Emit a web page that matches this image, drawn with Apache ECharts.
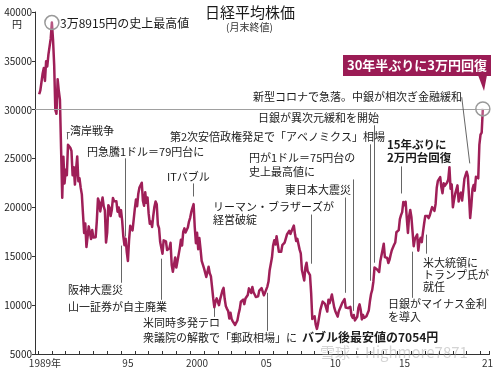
<!DOCTYPE html>
<html><head><meta charset="utf-8">
<script src="https://cdn.jsdelivr.net/npm/echarts@6/dist/echarts.min.js"></script>
<style>html,body{margin:0;padding:0;background:#fff}#c{width:496px;height:371px}</style>
</head><body><div id="c"></div>
<script>
// Month-end closes of the Nikkei 225 (yen), one array per year
const y1989 = [31581,31985,32838,33713,34266,32948,34953,34431,35636,35549,37268,38915];
const y1990 = [37188,34591,29980,29584,33130,31940,31035,25978,20983,25194,22454,23848];
const y1991 = [23293,26409,26292,26111,25790,23290,24120,22335,23916,25222,22687,22983];
const y1992 = [22023,21338,19345,17390,18348,15951,15910,18061,17399,16767,17684,16925];
const y1993 = [17023,16953,18591,20919,20552,19590,20380,21027,20106,19704,16407,17417];
const y1994 = [20229,19997,19112,19725,20973,20644,20448,20629,19564,19990,19076,19723];
const y1995 = [18650,17053,16140,16807,15437,14517,16678,18117,17913,17655,18744,19868];
const y1996 = [20813,20125,21407,22041,21956,22531,20693,20167,21556,20466,21020,19361];
const y1997 = [18330,18557,18003,19151,20069,20605,20331,18229,17888,16459,16636,15259];
const y1998 = [16628,16831,16527,15641,15671,15830,16379,14108,13406,13565,14884,13842];
const y1999 = [14499,14368,15837,16702,16112,17530,17862,17437,17605,17942,18558,18934];
const y2000 = [19540,19960,20337,17974,16332,17411,15727,16861,15747,14540,14649,13786];
const y2001 = [13844,12884,12999,13934,13262,12969,11861,10713,9775,10367,10697,10543];
const y2002 = [9998,10587,11025,11493,11764,10622,9877,9619,9383,8640,9216,8579];
const y2003 = [8340,8363,7973,7831,8425,9083,9563,10344,10219,10560,10101,10677];
const y2004 = [10784,11042,11715,11762,11236,11859,11326,11082,10824,10771,10899,11489];
const y2005 = [11388,11741,11669,11009,11277,11584,11900,12414,13574,13607,14872,16111];
const y2006 = [16650,16205,17060,16906,15467,15505,15457,16141,16128,16399,16274,17226];
const y2007 = [17383,17604,17288,17400,17876,18138,17248,16569,16786,16738,15681,15308];
const y2008 = [13592,13603,12526,13850,14339,13481,13377,13073,11260,8577,8512,8860];
const y2009 = [7994,7568,8110,8828,9523,9958,10357,10493,10133,10035,9346,10546];
const y2010 = [10198,10126,11090,11057,9769,9383,9537,8824,9369,9202,9937,10229];
const y2011 = [10238,10624,9755,9850,9694,9816,9833,8955,8700,8988,8434,8455];
const y2012 = [8803,9723,10084,9521,8543,9007,8695,8840,8870,8928,9446,10395];
const y2013 = [11139,11559,12398,13861,13775,13677,13668,13389,14456,14328,15662,16291];
const y2014 = [14915,14841,14828,14304,14632,15162,15621,15425,16174,16414,17460,17451];
const y2015 = [17674,18798,19207,19520,20563,20236,20585,18890,17388,19083,19747,19034];
const y2016 = [17518,16027,16759,16666,17235,15576,16569,16887,16450,17425,18308,19114];
const y2017 = [19041,19119,18909,19197,19651,20033,19925,19646,20356,22012,22725,22765];
const y2018 = [23098,22068,21454,22468,22202,22305,22554,22865,24120,21920,22351,20015];
const y2019 = [20773,21385,21206,22259,20601,21276,21522,20704,21756,22927,23294,23657];
const y2020 = [23205,21143,18917,20194,21878,22288,21710,23140,23185,22977,26434,27444];
const y2021 = [27663,30084];

const firstYear = 1989;
const years = [y1989,y1990,y1991,y1992,y1993,y1994,y1995,y1996,y1997,y1998,y1999,y2000,
  y2001,y2002,y2003,y2004,y2005,y2006,y2007,y2008,y2009,y2010,y2011,y2012,y2013,y2014,
  y2015,y2016,y2017,y2018,y2019,y2020,y2021];

// x-axis tick labels (placed at mid-year)
const xLabelYears = [1989,1995,2000,2005,2010,2015,2021];
const xLabelTexts = ['1989年','95','2000','05','10','15','21'];

const peakX = 1990.0, peakV = 38915; // Dec 1989 close

const series = [];
years.forEach((arr, yi) => arr.forEach((v, m) => series.push([firstYear + yi + (m + 1) / 12, v])));
const last = series[series.length - 1];

// annotation leader lines, in data units [x1,y1,x2,y2]
const leaders = [
  [1991.08,27690,1991.08,26971],[1991.08,27690,1991.3,27690],
  [1995.32,25020,1995.32,17012],
  [1995.04,16088,1995.04,12290],
  [1997.91,14754,1997.91,10544],
  [2000.22,22454,2000.22,21119],
  [2001.73,9723,2001.73,8799],
  [2005.61,11263,2005.61,7361],
  [2008.78,19271,2008.78,14240],
  [2011.22,21016,2011.22,11263],
  [2011.80,22865,2011.80,9415],
  [2012.99,26458,2012.99,12495],
  [2013.31,28408,2013.31,14343],
  [2015.25,24199,2015.25,21427],
  [2016.04,15472,2016.04,10750],
  [2017.05,17218,2017.05,15267],
  [2019.64,31284,2020.22,24507]
];

const FONT = '"Noto Sans CJK JP","Noto Sans",sans-serif';
const LINE = '#9f1f58';
const labelMap = {};
xLabelYears.forEach((y, i) => { labelMap[(y + 0.5).toFixed(1)] = xLabelTexts[i]; });

function txt(text, x, y, size, opts) {
  opts = opts || {};
  return { type: 'text', z: 100, style: {
    text: text, x: x, y: y, fill: opts.fill || '#1a1a1a',
    font: (opts.bold ? 'bold ' : '') + size + 'px ' + FONT,
    align: opts.align || 'left', verticalAlign: 'middle', lineHeight: opts.lh || size + 2
  }};
}

const chart = echarts.init(document.getElementById('c'), null, { renderer: 'canvas' });
chart.setOption({
  animation: false,
  backgroundColor: '#fff',
  textStyle: { fontFamily: FONT },
  grid: { left: 35, right: 4, top: 12, bottom: 17, containLabel: false },
  xAxis: [
    { type: 'value', min: 1988.78, max: 2021.65, splitNumber: 33, position: 'bottom',
      axisLine: { show: true, onZero: false, lineStyle: { color: '#333', width: 1 } },
      axisTick: { show: true, inside: true, length: 3, lineStyle: { color: '#333' } },
      axisLabel: { show: false }, splitLine: { show: false } },
    { type: 'value', min: 1988.78, max: 2021.65, splitNumber: 66, position: 'bottom',
      axisLine: { show: false, onZero: false }, axisTick: { show: false }, splitLine: { show: false },
      axisLabel: { show: true, margin: 4, fontSize: 10, color: '#333', fontFamily: FONT,
        formatter: v => labelMap[(Math.round(v * 2) / 2).toFixed(1)] || '' } }
  ],
  yAxis: { type: 'value', min: 5000, max: 40000, interval: 5000,
    axisLine: { show: true, onZero: false, lineStyle: { color: '#333', width: 1 } },
    axisTick: { show: true, length: 3, lineStyle: { color: '#333' } },
    axisLabel: { fontSize: 10, color: '#222', margin: 3, fontFamily: FONT, formatter: v => String(v) },
    splitLine: { show: false } },
  series: [{
    type: 'line', xAxisIndex: 0, data: series, showSymbol: false, symbol: 'none',
    lineStyle: { color: LINE, width: 2.5, join: 'round' },
    markLine: { silent: true, symbol: ['none', 'none'], label: { show: false }, animation: false,
      data: [{ yAxis: 30000, lineStyle: { color: '#a0a0a0', width: 1, type: 'solid' } }].concat(
        leaders.map(l => [{ coord: [l[0], l[1]], lineStyle: { color: '#555', width: 0.9, type: 'solid' } },
                          { coord: [l[2], l[3]] }])) },
    markPoint: { silent: true, symbol: 'circle', symbolSize: 14, label: { show: false },
      itemStyle: { color: 'rgba(255,255,255,0.25)', borderColor: '#999', borderWidth: 1.5 },
      data: [{ coord: [peakX, peakV] }, { coord: last }] }
  }],
  graphic: [
    txt('日経平均株価', 205, 12, 15),
    txt('(月末終値)', 226, 27, 10, { fill: '#333' }),
    txt('円', 12, 24, 10),
    txt('3万8915円の史上最高値', 60, 23, 12),
    { type: 'rect', z: 99, shape: { x: 343, y: 55, width: 148, height: 21 }, style: { fill: '#9b1c55' } },
    { type: 'polygon', z: 99, shape: { points: [[478, 75], [487, 75], [484, 91]] }, style: { fill: '#9b1c55' } },
    txt('30年半ぶりに3万円回復', 417, 65.5, 13, { bold: true, fill: '#fff', align: 'center' }),
    txt('新型コロナで急落。中銀が相次ぎ金融緩和', 253, 97, 11),
    txt('日銀が異次元緩和を開始', 258, 118, 11),
    txt('第2次安倍政権発足で「アベノミクス」相場', 170, 137, 11),
    txt('円が1ドル＝75円台の\n史上最高値に', 249, 165, 11, { lh: 14 }),
    txt('東日本大震災', 285, 190, 11),
    txt('15年ぶりに\n2万円台回復', 387, 151.5, 11.5, { bold: true, lh: 13 }),
    txt('リーマン・ブラザーズが\n経営破綻', 213, 213.5, 11, { lh: 13 }),
    txt('湾岸戦争', 70, 131, 11),
    txt('円急騰1ドル＝79円台に', 87, 152, 11),
    txt('ITバブル', 167, 177, 11),
    txt('阪神大震災', 68, 290, 11),
    txt('山一証券が自主廃業', 68, 307, 11),
    txt('米同時多発テロ', 143, 323, 11),
    txt('衆議院の解散で「郵政相場」に', 143, 338, 11),
    txt('バブル後最安値の7054円', 302, 337, 12, { bold: true }),
    txt('日銀がマイナス金利\nを導入', 388, 310.5, 11, { lh: 13 }),
    txt('米大統領に\nトランプ氏が\n就任', 423, 275, 11, { lh: 12 }),
    txt('雪球：Highmore7871', 320, 352, 15, { fill: 'rgba(160,160,160,0.45)' })
  ]
});
</script></body></html>
